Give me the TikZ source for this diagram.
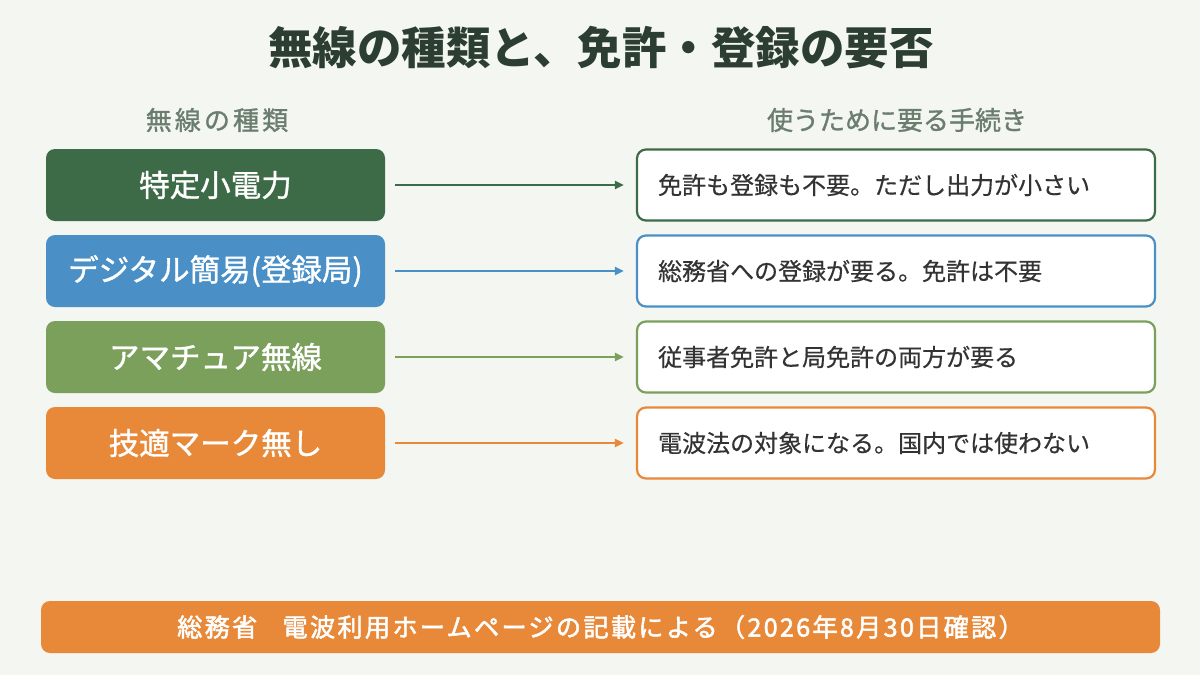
\documentclass[tikz,border=0pt]{standalone}
\usepackage{fontspec}
\setmainfont{Noto Sans CJK JP}
\newfontfamily\semibold[FakeBold=1.2]{Noto Sans CJK JP}
\newfontfamily\spacedsemi[FakeBold=1.2,LetterSpace=12]{Noto Sans CJK JP}
\newfontfamily\footfont[FakeBold=2,LetterSpace=9]{Noto Sans CJK JP}
\newfontfamily\bodyfont[FakeBold=0.4]{Noto Sans CJK JP}
\usetikzlibrary{arrows.meta}
\definecolor{bg}{HTML}{F4F6F1}
\definecolor{cA}{HTML}{3D6B47}
\definecolor{cB}{HTML}{4A90C6}
\definecolor{cC}{HTML}{7BA05B}
\definecolor{cD}{HTML}{E8893A}
\definecolor{titlec}{HTML}{2C3E31}
\definecolor{headc}{HTML}{6B7D6F}
\definecolor{bodyc}{HTML}{333333}
\tikzset{
  kind/.style={rounded corners=9pt, minimum width=339pt, minimum height=72pt, inner sep=0pt, text=white, font=\fontsize{30.5}{34}\semibold, fill=#1},
  proc/.style={rounded corners=9pt, draw=#1, line width=2.2pt, fill=white, minimum width=518pt, minimum height=71pt, inner sep=0pt},
  proctext/.style={anchor=west, text=bodyc, font=\fontsize{24}{28}\bodyfont, inner sep=0pt},
  link/.style={draw=#1, line width=2pt, -{Triangle[length=9pt,width=8pt]}},
  head/.style={text=headc, font=\fontsize{26}{30}\semibold}
}
\begin{document}
\begin{tikzpicture}[x=1pt,y=-1pt]
\fill[bg] (0,0) rectangle (1200,675);
\useasboundingbox (0,0) rectangle (1200,675);
\node[text=titlec, font=\fontsize{44.5}{50}\selectfont\bfseries] (title) at (601,48) {無線の種類と、免許・登録の要否};
\node[head, font=\fontsize{26}{30}\spacedsemi] (hl) at (217,120) {無線の種類};
\node[head] (hr) at (897,120) {使うために要る手続き};
\foreach \i/\c/\k/\p in {1/cA/特定小電力/免許も登録も不要。ただし出力が小さい,
  2/cB/デジタル簡易(登録局)/総務省への登録が要る。免許は不要,
  3/cC/アマチュア無線/従事者免許と局免許の両方が要る,
  4/cD/技適マーク無し/電波法の対象になる。国内では使わない}{
  \pgfmathsetmacro{\yy}{185+(\i-1)*86}
  \node[kind=\c] (k\i) at (215.5,\yy) {\k};
  \node[proc=\c] (p\i) at (896,\yy) {};
  \node[proctext] (t\i) at ([xshift=22pt]p\i.west) {\p};
  \draw[link=\c] ([xshift=10pt]k\i.east) -- ([xshift=-12pt]p\i.west);
}
\node[rounded corners=9pt, fill=cD, minimum width=1119pt, minimum height=52pt, inner sep=0pt, text=white, font=\fontsize{25.2}{29}\footfont] (foot) at (600.5,627) {総務省\hspace{1em}電波利用ホームページの記載による（2026年8月30日確認）};
\end{tikzpicture}
\end{document}
